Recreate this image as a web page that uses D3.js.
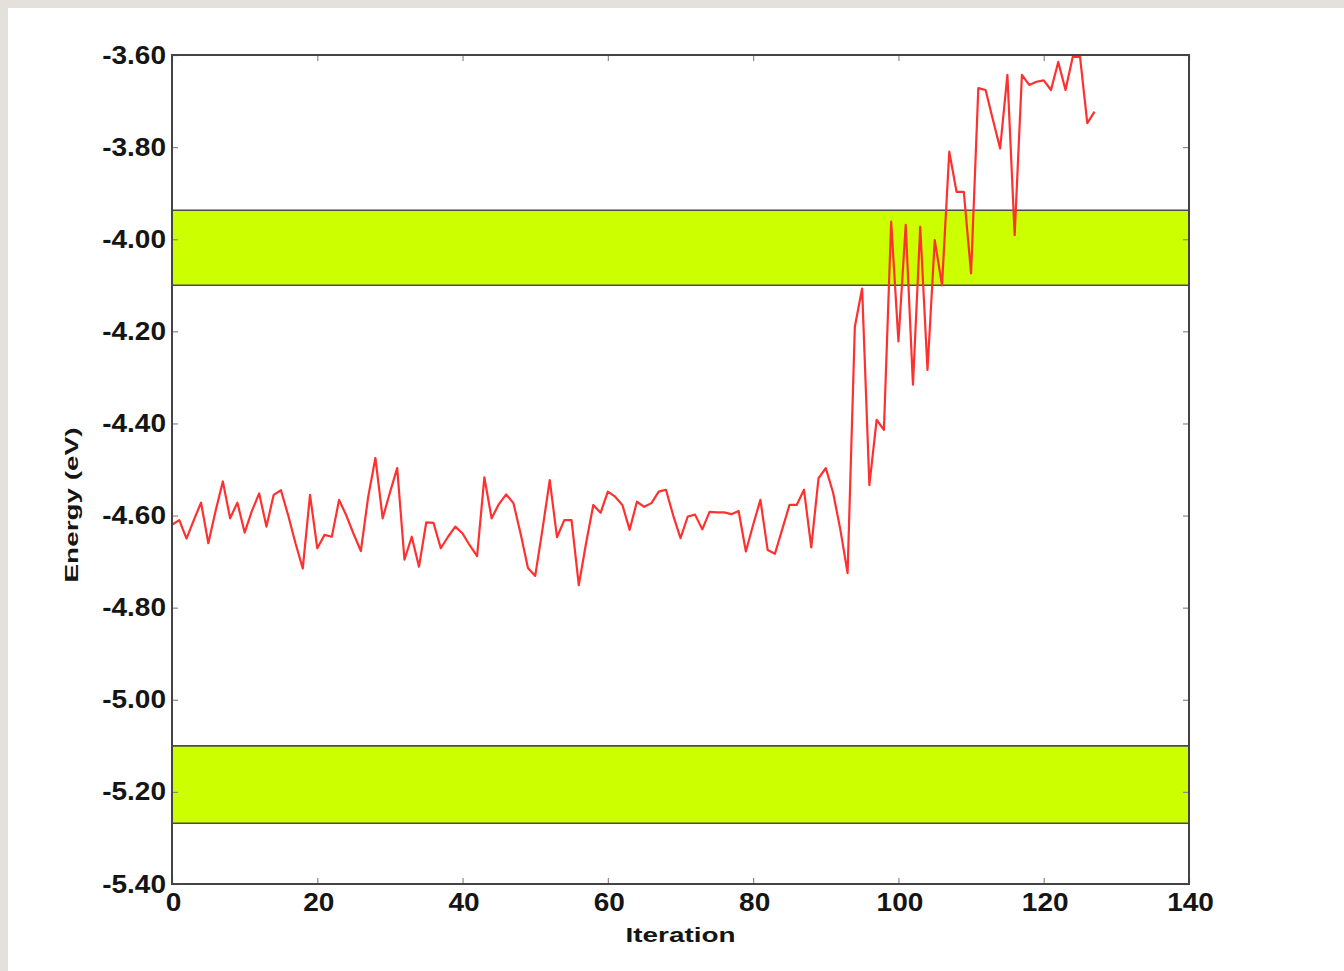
<!DOCTYPE html>
<html>
<head>
<meta charset="utf-8">
<script src="https://cdn.jsdelivr.net/npm/d3@7"></script>
<style>
  html, body { margin: 0; padding: 0; background: #e4e1dc; }
  svg { display: block; }
</style>
</head>
<body>
<svg id="chart" width="1344" height="971"></svg>
<script>
// ---- data ----
const energy = [
  -4.62, -4.61, -4.65, -4.61, -4.572, -4.66, -4.59, -4.526, -4.606, -4.572,
  -4.637, -4.59, -4.552, -4.624, -4.555, -4.545, -4.60, -4.66, -4.715, -4.555,
  -4.671, -4.642, -4.646, -4.566, -4.60, -4.64, -4.677, -4.56, -4.475, -4.606,
  -4.55, -4.497, -4.696, -4.646, -4.711, -4.615, -4.616, -4.671, -4.646, -4.624,
  -4.639, -4.665, -4.688, -4.517, -4.606, -4.575, -4.554, -4.573, -4.64, -4.714,
  -4.731, -4.63, -4.523, -4.647, -4.61, -4.61, -4.751, -4.66, -4.577, -4.594,
  -4.548, -4.559, -4.577, -4.631, -4.570, -4.581, -4.573, -4.548, -4.544, -4.60,
  -4.649, -4.602, -4.598, -4.630, -4.592, -4.593, -4.593, -4.597, -4.590, -4.678,
  -4.62, -4.566, -4.675, -4.683, -4.63, -4.577, -4.577, -4.544, -4.669, -4.519,
  -4.497, -4.55, -4.63, -4.725, -4.19, -4.107, -4.534, -4.392, -4.414, -3.962,
  -4.222, -3.969, -4.316, -3.973, -4.284, -4.002, -4.10, -3.81, -3.897, -3.897,
  -4.074, -3.672, -3.676, -3.74, -3.803, -3.643, -3.991, -3.643, -3.665, -3.658,
  -3.655, -3.676, -3.615, -3.676, -3.604, -3.604, -3.748, -3.723
];
const bandUpper = [-4.10, -3.937];
const bandLower = [-5.268, -5.10];
const xTicks = [0, 20, 40, 60, 80, 100, 120, 140];
const xTickLabels = ["0", "20", "40", "60", "80", "100", "120", "140"];
const yTicks = [-3.6, -3.8, -4.0, -4.2, -4.4, -4.6, -4.8, -5.0, -5.2, -5.4];
const yTickLabels = ["-3.60", "-3.80", "-4.00", "-4.20", "-4.40", "-4.60", "-4.80", "-5.00", "-5.20", "-5.40"];
const xTitle = "Iteration";
const yTitle = "Energy (eV)";

// ---- layout ----
const svg = d3.select("#chart");
const L = 172, R = 1189, T = 55, B = 884;
const x = d3.scaleLinear().domain([0, 140]).range([L, R]);
const y = d3.scaleLinear().domain([-5.4, -3.6]).range([B, T]);
const font = "'Liberation Sans', Arial, Helvetica, sans-serif";

// background: grey border + white sheet
svg.append("rect").attr("x", 0).attr("y", 0).attr("width", 1344).attr("height", 971).attr("fill", "#e4e1dc");
svg.append("rect").attr("x", 8).attr("y", 8).attr("width", 1336).attr("height", 963).attr("fill", "#ffffff");

// bands
[bandUpper, bandLower].forEach(b => {
  svg.append("rect")
    .attr("x", x(0)).attr("width", x(140) - x(0))
    .attr("y", y(b[1])).attr("height", y(b[0]) - y(b[1]))
    .attr("fill", "#ccff00");
  b.forEach(v => {
    svg.append("line")
      .attr("x1", x(0)).attr("x2", x(140))
      .attr("y1", y(v)).attr("y2", y(v))
      .attr("stroke", "#4a4a4a").attr("stroke-width", 1.6);
  });
});

// axes (inward ticks)
function styleTicks(g) {
  g.select(".domain").remove();
  g.selectAll(".tick line").attr("stroke", "#8a8a8a").attr("stroke-width", 1.2);
}
svg.append("g").attr("transform", `translate(0,${B})`)
  .call(d3.axisBottom(x).tickValues(xTicks).tickFormat((d, i) => xTickLabels[i]).tickSizeInner(-6).tickSizeOuter(0))
  .call(styleTicks)
  .call(g => g.selectAll(".tick text")
    .attr("y", 0).attr("dy", 0)
    .attr("transform", "translate(1,27) scale(1.12,1)")
    .attr("fill", "#151515").attr("font-family", font).attr("font-weight", "bold").attr("font-size", 25));
svg.append("g").attr("transform", `translate(0,${T})`)
  .call(d3.axisTop(x).tickValues(xTicks).tickFormat("").tickSizeInner(-6).tickSizeOuter(0))
  .call(styleTicks);
svg.append("g").attr("transform", `translate(${L},0)`)
  .call(d3.axisLeft(y).tickValues(yTicks).tickFormat((d, i) => yTickLabels[i]).tickSizeInner(-6).tickSizeOuter(0))
  .call(styleTicks)
  .call(g => g.selectAll(".tick text")
    .attr("x", 0).attr("dy", "0.36em")
    .attr("transform", "translate(-6,-1) scale(1.12,1)")
    .attr("fill", "#151515").attr("font-family", font).attr("font-weight", "bold").attr("font-size", 25));
svg.append("g").attr("transform", `translate(${R},0)`)
  .call(d3.axisRight(y).tickValues(yTicks).tickFormat("").tickSizeInner(-6).tickSizeOuter(0))
  .call(styleTicks);

// data line
const line = d3.line().x((d, i) => x(i)).y(d => y(d));
svg.append("path").datum(energy)
  .attr("d", line)
  .attr("fill", "none")
  .attr("stroke", "#ff3030")
  .attr("stroke-width", 2.2)
  .attr("stroke-linejoin", "round");

// frame
svg.append("rect")
  .attr("x", L).attr("y", T).attr("width", R - L).attr("height", B - T)
  .attr("fill", "none").attr("stroke", "#444").attr("stroke-width", 2);

// titles
svg.append("text")
  .attr("x", (L + R) / 2).attr("y", 942)
  .attr("text-anchor", "middle")
  .attr("font-family", font).attr("font-weight", "bold").attr("font-size", 21)
  .attr("textLength", 110).attr("lengthAdjust", "spacingAndGlyphs")
  .attr("fill", "#151515")
  .text(xTitle);
svg.append("text")
  .attr("transform", "translate(78,505) rotate(-90)")
  .attr("text-anchor", "middle")
  .attr("font-family", font).attr("font-weight", "bold").attr("font-size", 19)
  .attr("textLength", 155).attr("lengthAdjust", "spacingAndGlyphs")
  .attr("fill", "#151515")
  .text(yTitle);
</script>
</body>
</html>
